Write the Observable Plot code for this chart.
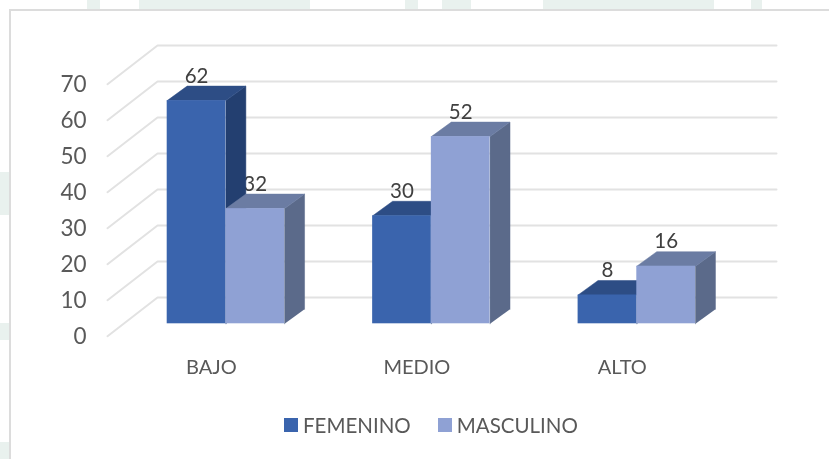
<!DOCTYPE html>
<html>
<head>
<meta charset="utf-8">
<script src="https://cdn.jsdelivr.net/npm/d3@7"></script>
<script src="https://cdn.jsdelivr.net/npm/@observablehq/plot@0.6"></script>
<style>
  html, body { margin: 0; padding: 0; background: #fff; }
  #card { position: relative; width: 829px; height: 459px; overflow: hidden; font-family: Lato, sans-serif; filter: blur(0.45px); }
  #strip-top { position: absolute; left: 0; top: 0; width: 829px; height: 9px;
    background: linear-gradient(90deg, #fff 87px, #e9f1ee 87px, #e9f1ee 100px, #fff 100px, #fff 139px, #e9f1ee 139px, #e9f1ee 310px, #fff 310px, #fff 405px, #e9f1ee 405px, #e9f1ee 418px, #fff 418px, #fff 442px, #e9f1ee 442px, #e9f1ee 471px, #fff 471px, #fff 543px, #e9f1ee 543px, #e9f1ee 714px, #fff 714px, #fff 751px, #e9f1ee 751px, #e9f1ee 762px, #fff 762px); }
  #strip-left { position: absolute; left: 0; top: 0; width: 9px; height: 459px;
    background: linear-gradient(180deg, #fff 172px, #e9f1ee 172px, #e9f1ee 215px, #fff 215px, #fff 323px, #e9f1ee 323px, #e9f1ee 340px, #fff 340px, #fff 442px, #e9f1ee 442px); }
  #card::before { content: ""; position: absolute; left: 9px; top: 9px; right: 0; bottom: 0; border-left: 2px solid #dcdcdc; border-top: 2px solid #dcdcdc; }
  #chart { position: relative; }
  #chart svg { display: block; background: transparent; }
  #legend { position: relative; display: flex; align-items: center; height: 30px; margin-top: 5px; padding-left: 284px; font-size: 20.5px; color: #595959; }
  #legend i { display: block; width: 14px; height: 14px; margin-right: 5px; }
  #legend span { display: block; white-space: nowrap; }
</style>
</head>
<body>
<div id="card">
  <div id="strip-top"></div>
  <div id="strip-left"></div>
  <div id="chart"></div>
  <div id="legend"></div>
</div>
<script>
const categories = ["BAJO", "MEDIO", "ALTO"];
const series = ["FEMENINO", "MASCULINO"];
const femenino = [62, 30, 8];
const masculino = [32, 52, 16];
const yTicks = [0, 10, 20, 30, 40, 50, 60, 70];
const frontColors = ["#3A64AD", "#8FA1D4"];
const topColors = ["#2D4D85", "#6B7CA3"];
const sideColors = ["#233F70", "#5B6A8A"];

// Layout of the 3-D box in axis units: one unit of x is one bar width.
const groupStep = 3.5, depthX = 0.34, depthY = 4.03;
const floorFront = -3.44, wallY = 7.3, wallX = -0.165, frontX = -1.017, wallEnd = 10.38;

const bars = [];
categories.forEach((category, i) => {
  [femenino, masculino].forEach((values, s) => {
    bars.push({category, series: series[s], s, value: values[i], x1: groupStep * i + s, x2: groupStep * i + s + 1});
  });
});

const topFace = b => [[b.x1, b.value], [b.x1 + depthX, b.value + depthY], [b.x2 + depthX, b.value + depthY], [b.x2, b.value]];
const sideFace = b => [[b.x2, 0], [b.x2, b.value], [b.x2 + depthX, b.value + depthY], [b.x2 + depthX, depthY]];
const faceRows = (face, s) => bars.filter(b => b.s === s).flatMap(b =>
  face(b).map(([x, y]) => ({x, y, id: b.category})));

const grid = yTicks.flatMap(v => [
  {x: frontX, y: v + floorFront, v},
  {x: wallX, y: v + wallY, v},
  {x: wallEnd, y: v + wallY, v}
]);

const valueLabels = (s) => Plot.text(bars.filter(b => b.s === s), {
  x: b => (b.x1 + b.x2) / 2, y: b => b.value + 6.85, text: "value",
  fontSize: 20.5, fill: "#404040"
});

const seriesMarks = s => [
  Plot.line(faceRows(sideFace, s), {x: "x", y: "y", z: "id", curve: "linear", fill: sideColors[s], stroke: sideColors[s], strokeWidth: 0.5}),
  Plot.line(faceRows(topFace, s), {x: "x", y: "y", z: "id", curve: "linear", fill: topColors[s], stroke: topColors[s], strokeWidth: 0.5}),
  Plot.rect(bars.filter(b => b.s === s), {x1: "x1", x2: "x2", y1: 0, y2: "value", fill: "series"})
];

const plot = Plot.plot({
  width: 829,
  height: 405,
  margin: 0,
  style: {fontFamily: "Lato, sans-serif", background: "transparent", overflow: "visible"},
  x: {domain: [0, 10.5], range: [166.7, 783.05], axis: null},
  y: {domain: [0, 70], range: [323.3, 71.3], axis: null},
  color: {domain: series, range: frontColors},
  marks: [
    Plot.line(grid, {x: "x", y: "y", z: "v", curve: "linear", stroke: "#e2e2e2", strokeWidth: 2}),
    Plot.text(yTicks, {x: frontX, y: d => d + floorFront, text: d => String(d), dx: -21, dy: 1, textAnchor: "end", fontSize: 22.5, fill: "#595959"}),
    Plot.text(categories, {x: (d, i) => groupStep * i + 1, y: -12.2, dx: -14.5, text: d => d, fontSize: 20, fill: "#595959"}),
    valueLabels(1),
    ...seriesMarks(0),
    ...seriesMarks(1),
    valueLabels(0)
  ]
});
document.getElementById("chart").append(plot);

const legend = document.getElementById("legend");
series.forEach((name, s) => {
  const swatch = document.createElement("i");
  swatch.style.background = frontColors[s];
  const label = document.createElement("span");
  label.textContent = name;
  if (s === 0) label.style.marginRight = "27px";
  legend.append(swatch, label);
});
</script>
</body>
</html>
